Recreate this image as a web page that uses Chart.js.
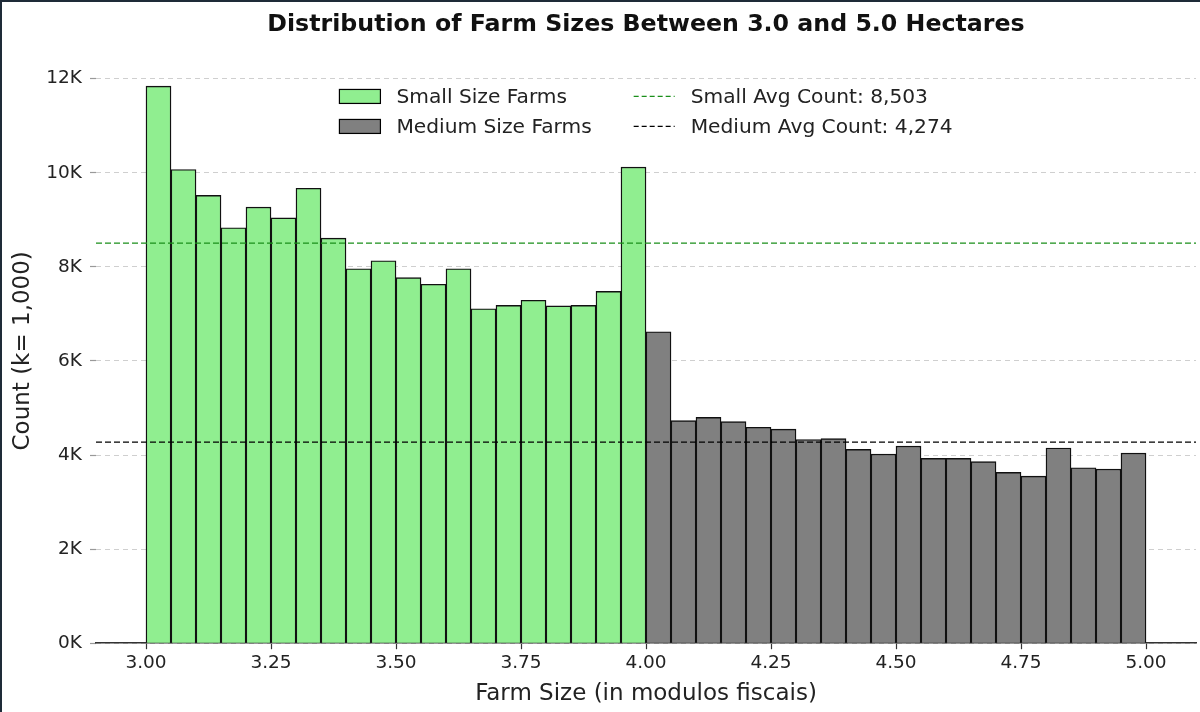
<!DOCTYPE html>
<html><head><meta charset="utf-8">
<script src="https://cdn.jsdelivr.net/npm/chart.js@4.4.0/dist/chart.umd.min.js"></script>
<style>html,body{margin:0;padding:0;background:#fff;}#wrap{width:1200px;height:712px;position:relative;}canvas{display:block;}</style>
</head><body><div id="wrap"><canvas id="c" width="1200" height="712"></canvas></div>
<script>
// ---- data ----
const smallBinStarts = [3.00,3.05,3.10,3.15,3.20,3.25,3.30,3.35,3.40,3.45,3.50,3.55,3.60,3.65,3.70,3.75,3.80,3.85,3.90,3.95];
const mediumBinStarts = [4.00,4.05,4.10,4.15,4.20,4.25,4.30,4.35,4.40,4.45,4.50,4.55,4.60,4.65,4.70,4.75,4.80,4.85,4.90,4.95];
const smallCounts = [11840,10070,9520,8830,9270,9040,9670,8610,7960,8130,7770,7630,7960,7110,7180,7290,7170,7180,7480,10120];
const mediumCounts = [6620,4730,4800,4710,4590,4550,4330,4350,4120,4020,4190,3930,3930,3860,3630,3550,4150,3730,3700,4040];
const smallAvg = 8503;
const mediumAvg = 4274;
const xTickValues = [3.00,3.25,3.50,3.75,4.00,4.25,4.50,4.75,5.00];
const yTickValues = [0,2000,4000,6000,8000,10000,12000];
const BIN_WIDTH = 0.05;
const X_MIN = 2.9, X_MAX = 5.1, Y_MAX = 12430;

const GREEN_FILL = '#90EE90', GREY_FILL = '#808080', GREEN_LINE = '#1a8f1a';
const FONT = 'DejaVu Sans';
const TEXT = '#222';

const toPoints = (starts, vals) => starts.map((s, i) => ({x: s + BIN_WIDTH / 2, y: vals[i]}));
const fmt = n => n.toLocaleString('en-US');

const legendItems = [
  [{text: 'Small Size Farms', kind: 'box', color: GREEN_FILL},
   {text: 'Medium Size Farms', kind: 'box', color: GREY_FILL}],
  [{text: 'Small Avg Count: ' + fmt(smallAvg), kind: 'line', color: GREEN_LINE},
   {text: 'Medium Avg Count: ' + fmt(mediumAvg), kind: 'line', color: '#000'}]
];

const customLegend = {
  id: 'customLegend',
  afterDraw(chart) {
    const ctx = chart.ctx, ca = chart.chartArea;
    ctx.save();
    ctx.font = '20.2px "' + FONT + '"';
    const hw = 41, hg = 16, colGap = 42;
    const colW = legendItems.map(col => Math.max(...col.map(it => ctx.measureText(it.text).width)));
    const total = colW.reduce((a, w) => a + hw + hg + w, 0) + colGap * (legendItems.length - 1);
    let x = (ca.left + ca.right) / 2 - total / 2;
    const rowY = [ca.top + 38, ca.top + 68];
    legendItems.forEach((col, ci) => {
      col.forEach((it, ri) => {
        const cy = rowY[ri];
        if (it.kind === 'box') {
          ctx.fillStyle = it.color;
          ctx.fillRect(x, cy - 7, hw, 14);
          ctx.strokeStyle = '#000'; ctx.lineWidth = 1.2; ctx.setLineDash([]);
          ctx.strokeRect(x, cy - 7, hw, 14);
        } else {
          ctx.strokeStyle = it.color; ctx.lineWidth = 1.3; ctx.setLineDash([5, 3]);
          ctx.beginPath(); ctx.moveTo(x, cy); ctx.lineTo(x + hw, cy); ctx.stroke();
          ctx.setLineDash([]);
        }
        ctx.fillStyle = TEXT; ctx.textBaseline = 'middle'; ctx.textAlign = 'left';
        ctx.fillText(it.text, x + hw + hg, cy + 1);
      });
      x += hw + hg + colW[ci] + colGap;
    });
    ctx.restore();
  }
};

const frame = {
  id: 'frame',
  afterDraw(chart) {
    const ctx = chart.ctx;
    ctx.save();
    ctx.fillStyle = '#1e2b38';
    ctx.fillRect(0, 0, chart.width, 2);
    ctx.fillRect(0, 0, 2, chart.height);
    ctx.restore();
  }
};

new Chart(document.getElementById('c'), {
  type: 'bar',
  data: {
    datasets: [
      {type: 'line', label: 'Small Avg Count', data: [{x: X_MIN, y: smallAvg}, {x: X_MAX, y: smallAvg}],
       borderColor: GREEN_LINE, borderWidth: 1.3, borderDash: [6, 3], pointRadius: 0, order: 0},
      {type: 'line', label: 'Medium Avg Count', data: [{x: X_MIN, y: mediumAvg}, {x: X_MAX, y: mediumAvg}],
       borderColor: '#000', borderWidth: 1.3, borderDash: [6, 3], pointRadius: 0, order: 0},
      {label: 'Small Size Farms', data: toPoints(smallBinStarts, smallCounts), backgroundColor: GREEN_FILL,
       borderColor: '#111', borderWidth: 1.4, grouped: false, barPercentage: 1, categoryPercentage: 1, order: 1},
      {label: 'Medium Size Farms', data: toPoints(mediumBinStarts, mediumCounts), backgroundColor: GREY_FILL,
       borderColor: '#111', borderWidth: 1.4, grouped: false, barPercentage: 1, categoryPercentage: 1, order: 1}
    ]
  },
  options: {
    responsive: false,
    animation: false,
    layout: {padding: {left: 0, right: 4, top: 0, bottom: 1}},
    plugins: {
      legend: {display: false},
      tooltip: {enabled: false},
      title: {display: true, fullSize: false, text: 'Distribution of Farm Sizes Between 3.0 and 5.0 Hectares',
        color: '#111', font: {family: FONT, size: 23.7, weight: 'bold'}, padding: {top: 11, bottom: 19}}
    },
    scales: {
      x: {
        type: 'linear', min: X_MIN, max: X_MAX, offset: false,
        afterBuildTicks: s => { s.ticks = xTickValues.map(v => ({value: v})); },
        ticks: {color: TEXT, font: {family: FONT, size: 18.5}, padding: 3, maxRotation: 0,
          callback: v => Number(v).toFixed(2)},
        grid: {offset: false, drawOnChartArea: false, drawTicks: true, tickLength: 6, tickColor: '#333', tickWidth: 1.2},
        border: {display: true, color: '#333', width: 1.5},
        title: {display: true, text: 'Farm Size (in modulos fiscais)', color: TEXT,
          font: {family: FONT, size: 23}, padding: {top: 3, bottom: 3}}
      },
      y: {
        min: 0, max: Y_MAX,
        afterBuildTicks: s => { s.ticks = yTickValues.map(v => ({value: v})); },
        afterFit: s => { s.width = 96; },
        ticks: {color: TEXT, font: {family: FONT, size: 18.5}, padding: 8,
          callback: v => (v / 1000) + 'K'},
        grid: {color: '#cfcfcf', lineWidth: 1, tickLength: 6, tickColor: '#999', tickWidth: 1.2},
        border: {display: false, dash: [5, 4]},
        title: {display: true, text: 'Count (k= 1,000)', color: TEXT,
          font: {family: FONT, size: 23}, padding: {top: 9, bottom: 4}}
      }
    }
  },
  plugins: [customLegend, frame]
});
</script></body></html>
